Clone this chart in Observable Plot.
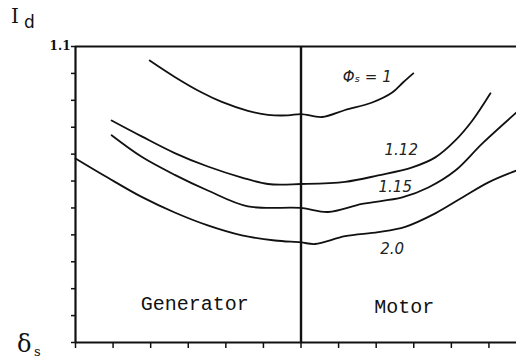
<!DOCTYPE html>
<html>
<head>
<meta charset="utf-8">
<script src="https://cdn.jsdelivr.net/npm/d3@7"></script>
<script src="https://cdn.jsdelivr.net/npm/@observablehq/plot@0.6"></script>
<style>
  html, body { margin: 0; padding: 0; background: #fff; overflow: hidden; }
  #wrap { position: relative; width: 516px; height: 358px; }
  .ov { position: absolute; font-family: "DejaVu Serif", serif; color: #111; line-height: 1; white-space: nowrap; }
</style>
</head>
<body>
<div id="wrap">
  <div class="ov" style="left:11px; top:6px; font-size:20px;">I</div>
  <div class="ov" style="left:24px; top:14px; font-size:17px; font-family:'DejaVu Sans';">d</div>
  <div class="ov" style="left:17px; top:332px; font-size:24px;">δ</div>
  <div class="ov" style="left:34px; top:345px; font-size:13px;">s</div>
</div>
<script>
// Flux levels (Φs) for each curve
const phiLevels = ["1", "1.12", "1.15", "2.0"];
// δs values (x) and Id values (y) per curve
const x_phi1 = [-60.4, -50.4, -39.6, -31.6, -21.2, -13.2, -5.2, 0, 8.4, 17.6, 28.4, 36.4, 40.8, 44.8];
const y_phi1 = [1.048, 0.987, 0.929, 0.894, 0.861, 0.846, 0.844, 0.849, 0.838, 0.864, 0.892, 0.929, 0.967, 1.0];
const x_phi112 = [-75.6, -63.6, -50.4, -37.2, -23.6, -13.2, 0, 17.6, 30.8, 44.4, 53.6, 61.6, 68.4, 75.6];
const y_phi112 = [0.825, 0.766, 0.704, 0.654, 0.613, 0.589, 0.589, 0.597, 0.621, 0.651, 0.688, 0.751, 0.825, 0.926];
const x_phi115 = [-75.6, -63.6, -50.4, -37.2, -21.2, 0, 10.8, 24.4, 40.4, 50.8, 61.6, 72.4, 86];
const y_phi115 = [0.770, 0.690, 0.623, 0.565, 0.506, 0.500, 0.485, 0.515, 0.539, 0.576, 0.639, 0.740, 0.855];
const x_phi20 = [-90, -77.2, -63.6, -50.4, -37.2, -23.6, -10.4, 0, 5.6, 17.6, 30.8, 41.6, 53.6, 64.4, 74.8, 86];
const y_phi20 = [0.684, 0.613, 0.541, 0.483, 0.435, 0.398, 0.379, 0.372, 0.366, 0.395, 0.410, 0.430, 0.480, 0.539, 0.595, 0.639];

// curve labels
const curveLabels = ["Φₛ = 1", "1.12", "1.15", "2.0"];
const curveLabelX = [26.4, 40, 37.6, 36.4];
const curveLabelY = [0.985, 0.714, 0.576, 0.346];

// region labels
const regionLabels = ["Generator", "Motor"];
const regionX = [-42.4, 41.2];
const regionY = [0.145, 0.134];

// axes
const xDomain = [-90, 86];
const yDomain = [0, 1.1];
const xTicks = [-90, -75, -60, -45, -30, -15, 0, 15, 30, 45, 60, 75];
const yTicks = [0, 0.1, 0.2, 0.3, 0.4, 0.5, 0.6, 0.7, 0.8, 0.9, 1.0, 1.1];
const yTickLabels = {"1.1": "1.1"};

const xs = [x_phi1, x_phi112, x_phi115, x_phi20];
const ys = [y_phi1, y_phi112, y_phi115, y_phi20];
const rows = phiLevels.flatMap((p, i) => xs[i].map((x, j) => ({phi: p, x, y: ys[i][j]})));
const labelRows = curveLabels.map((t, i) => ({t, x: curveLabelX[i], y: curveLabelY[i]}));
const regionRows = regionLabels.map((t, i) => ({t, x: regionX[i], y: regionY[i]}));

const chart = Plot.plot({
  width: 516,
  height: 358,
  marginLeft: 75,
  marginTop: 46,
  marginBottom: 16,
  marginRight: 0,
  x: {domain: xDomain, label: null},
  y: {domain: yDomain, label: null},
  style: {background: "#fff", color: "#111"},
  marks: [
    Plot.axisY({ticks: yTicks, tickSize: 4, tickPadding: 1, label: null,
      tickFormat: d => yTickLabels[d.toFixed(1)] ?? "",
      fontSize: 12, fontWeight: "bold", fontFamily: "DejaVu Serif", strokeWidth: 1.5}),
    Plot.axisX({ticks: xTicks, tickSize: 6, label: null, tickFormat: () => "", strokeWidth: 1.5}),
    Plot.ruleY([yDomain[1]], {strokeWidth: 2.2}),
    Plot.ruleY([yDomain[0]], {strokeWidth: 2.2}),
    Plot.ruleX([xDomain[0]], {strokeWidth: 2.2}),
    Plot.ruleX([0], {strokeWidth: 2.4}),
    Plot.line(rows, {x: "x", y: "y", z: "phi", curve: "catmull-rom", stroke: "#111", strokeWidth: 1.8}),
    Plot.text(labelRows, {x: "x", y: "y", text: "t", fontSize: 15, fontStyle: "italic", fontFamily: "DejaVu Sans", fill: "#222"}),
    Plot.text(regionRows, {x: "x", y: "y", text: "t", fontSize: 20, fontFamily: "Liberation Mono", fill: "#111"})
  ]
});
document.getElementById("wrap").prepend(chart);
chart.style.position = "absolute";
chart.style.left = "0";
chart.style.top = "0";
</script>
</body>
</html>
